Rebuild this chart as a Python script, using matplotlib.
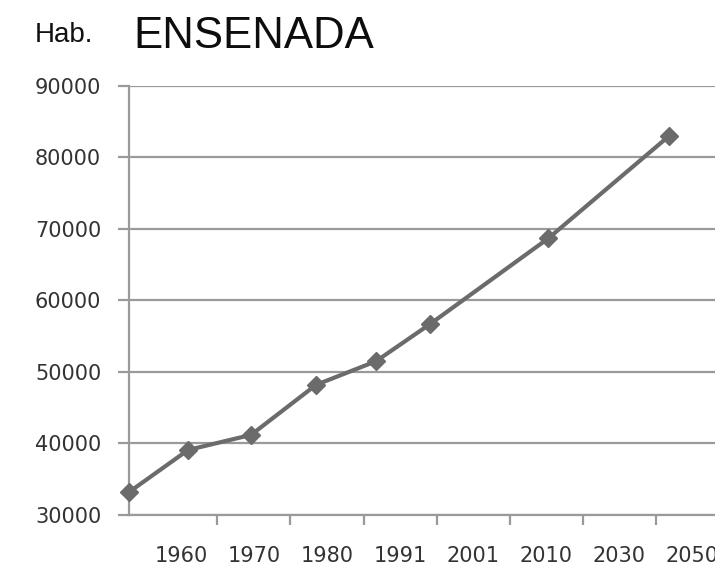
import matplotlib
matplotlib.use('Agg')
import matplotlib.pyplot as plt

# data
years = ['1960', '1970', '1980', '1991', '2001', '2010', '2030', '2050']
# where each marker sits along the category axis (category index units)
point_pos = [-0.71, 0.10, 0.96, 1.85, 2.67, 3.41, 5.03, 6.68]
habitantes = [33200, 39100, 41200, 48200, 51500, 56700, 68700, 83000]
yticks = [30000, 40000, 50000, 60000, 70000, 80000, 90000]

line_col = '#6b6b6b'
grid_col = '#9a9a9a'
txt_col = '#333333'

fig = plt.figure(figsize=(7.15, 5.65), dpi=100)
ax = fig.add_axes([0.1804, 0.0885, 0.839, 0.7593])

ax.plot(point_pos, habitantes, color=line_col, lw=3.0, marker='D', ms=9,
        mfc=line_col, mec=line_col, clip_on=False, zorder=3)

ax.set_ylim(30000, 90000)
ax.set_xlim(-0.71, 7.5)
ax.set_yticks(yticks)
ax.set_yticklabels([str(v) for v in yticks])
ax.yaxis.grid(True, color=grid_col, lw=1.6)
ax.set_axisbelow(True)

# category labels centred, tick marks between categories (Excel style)
ax.set_xticks(range(len(years)))
ax.set_xticklabels(years)
ax.tick_params(axis='x', which='major', length=0, pad=22)
ax.set_xticks([i + 0.5 for i in range(len(years))], minor=True)
ax.tick_params(axis='x', which='minor', length=7, width=1.6, color=grid_col)
ax.tick_params(axis='y', length=8, width=1.6, color=grid_col, pad=12)

for lab in ax.get_xticklabels() + ax.get_yticklabels():
    lab.set_fontfamily('DejaVu Sans')
    lab.set_fontsize(15)
    lab.set_color(txt_col)

for s in ['top', 'right']:
    ax.spines[s].set_visible(False)
for s in ['left', 'bottom']:
    ax.spines[s].set_color(grid_col)
    ax.spines[s].set_linewidth(1.6)

fig.text(254 / 715, 1 - 36 / 565, 'ENSENADA', family='Liberation Sans',
         fontsize=31.5, color='#0d0d0d', ha='center', va='center')
fig.text(35 / 715, 1 - 42 / 565, 'Hab.', family='Liberation Sans',
         fontsize=20, color='#111111', ha='left', va='baseline')

fig.savefig('out.png', dpi=100)
